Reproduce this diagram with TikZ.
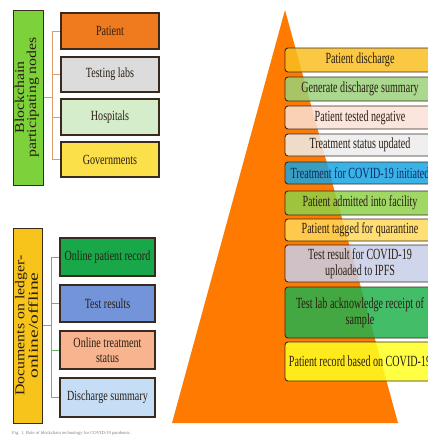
\documentclass[tikz,border=0pt]{standalone}
\usepackage{fontspec}
\setmainfont{Liberation Serif}
\newfontfamily\lcond[FakeStretch=0.72]{Liberation Serif}
\newfontfamily\rcond[FakeStretch=0.65]{Liberation Serif}
\newfontfamily\wideA[FakeStretch=1.17]{Liberation Serif}
\newfontfamily\wideB[FakeStretch=1.45]{Liberation Serif}
\definecolor{edge}{HTML}{3A2A1E}
\definecolor{txt}{HTML}{2A1E14}
\definecolor{navytxt}{HTML}{0A2A6A}
\definecolor{tri}{HTML}{FF7A00}
\definecolor{gtall}{HTML}{7DD13A}
\definecolor{ytall}{HTML}{F7C41C}
\definecolor{cpatient}{HTML}{F07A1E}
\definecolor{clabs}{HTML}{DCDCDC}
\definecolor{chosp}{HTML}{D6EDCB}
\definecolor{cgov}{HTML}{FCE04A}
\definecolor{crecord}{HTML}{18A84A}
\definecolor{ctest}{HTML}{7494DA}
\definecolor{ctreat}{HTML}{F7B48E}
\definecolor{cdisch}{HTML}{C6DEF5}
\definecolor{ctop}{HTML}{F9BE22}
\definecolor{cgen}{HTML}{9BD17A}
\definecolor{cneg}{HTML}{FBE1D6}
\definecolor{cupd}{HTML}{ECECEC}
\definecolor{cinit}{HTML}{19A5E0}
\definecolor{cadm}{HTML}{8ED14A}
\definecolor{ctag}{HTML}{FFD85A}
\definecolor{cres}{HTML}{C7CEE8}
\definecolor{cack}{HTML}{23B14D}
\definecolor{crec}{HTML}{FFFF22}
\definecolor{conntan}{HTML}{D9A06E}
\definecolor{conngreen}{HTML}{6DB56A}
\begin{document}
\begin{tikzpicture}[x=1pt,y=-1pt,
  lbox/.style={draw=edge, line width=1.3pt, inner sep=0pt, align=center, text=txt,
    font=\lcond\fontsize{14}{15}\selectfont},
  rbox/.style={draw=edge, draw opacity=1, line width=0.9pt, rounded corners=3pt,
    fill opacity=0.85, text opacity=1, inner sep=0pt, align=center, text=txt,
    minimum width=150pt, font=\rcond\fontsize{15.5}{16}\selectfont},
  tallbox/.style={draw=edge, line width=1pt, inner sep=0pt},
  talltext/.style={rotate=90, align=center, text=txt, inner sep=0pt,
    font=\wideA\fontsize{13.5}{12}\selectfont},
  conn/.style={line width=0.9pt}]
\useasboundingbox (0,0) rectangle (428,439);
\clip (0,0) rectangle (428,439);

% triangle
\fill[tri] (285,10) -- (172,423) -- (398,423) -- cycle;

% top-left group
\node[tallbox, fill=gtall, minimum width=30pt, minimum height=175pt] (gb) at (28,97.5) {};
\node[talltext] (gbt) at ([xshift=-1pt]gb.center) {Blockchain\\participating nodes};
\node[lbox, fill=cpatient, minimum width=98pt, minimum height=36pt] (p1) at (110,31) {Patient};
\node[lbox, fill=clabs, minimum width=98pt, minimum height=35pt] (p2) at (110,74.5) {Testing labs};
\node[lbox, fill=chosp, minimum width=98pt, minimum height=36pt] (p3) at (110,117) {Hospitals};
\node[lbox, fill=cgov, minimum width=98pt, minimum height=35pt] (p4) at (110,159.5) {Governments};
\coordinate (jt) at (52,97.5);
\draw[conn, conntan] (gb.east) -- (jt);
\draw[conn, conntan] (jt) |- (p1.west);
\draw[conn, conntan] (jt) |- (p2.west);
\draw[conn, conntan] (jt) |- (p3.west);
\draw[conn, conntan] (jt) |- (p4.west);

% bottom-left group
\node[tallbox, fill=ytall, minimum width=29pt, minimum height=195pt] (yb) at (27.5,325.5) {};
\node[talltext] (ybt) at ([xshift=-1pt]yb.center) {Documents on ledger-\\{\wideB online/offline}};
\node[lbox, fill=crecord, minimum width=95pt, minimum height=38pt] (d1) at (107.5,257) {Online patient record};
\node[lbox, fill=ctest, minimum width=95pt, minimum height=37pt] (d2) at (107.5,303.5) {Test results};
\node[lbox, fill=ctreat, minimum width=95pt, minimum height=38pt] (d3) at (107.5,350) {Online treatment\\status};
\node[lbox, fill=cdisch, minimum width=95pt, minimum height=39pt] (d4) at (107.5,397.5) {Discharge summary};
\coordinate (jb) at (51,325.5);
\draw[conn, conngreen] (yb.east) -- (jb);
\draw[conn, conngreen] (jb) |- (d1.west);
\draw[conn, conngreen] (jb) |- (d2.west);
\draw[conn, conngreen] (jb) |- (d3.west);
\draw[conn, conngreen] (jb) |- (d4.west);

% right stack
\node[rbox, fill=ctop, minimum height=24pt] (s1) at (360,60) {Patient discharge};
\node[rbox, fill=cgen, minimum height=24pt] (s2) at (360,89) {Generate discharge summary};
\node[rbox, fill=cneg, minimum height=23pt] (s3) at (360,117.5) {Patient tested negative};
\node[rbox, fill=cupd, minimum height=22pt] (s4) at (360,145) {Treatment status updated};
\node[rbox, fill=cinit, minimum height=22pt, text=navytxt] (s5) at (360,173) {Treatment for COVID-19 initiated};
\node[rbox, fill=cadm, minimum height=24pt] (s6) at (360,203) {Patient admitted into facility};
\node[rbox, fill=ctag, minimum height=22pt] (s7) at (360,230) {Patient tagged for quarantine};
\node[rbox, fill=cres, minimum height=37pt] (s8) at (360,263.5) {Test result for COVID-19\\uploaded to IPFS};
\node[rbox, fill=cack, minimum height=51pt] (s9) at (360,312.5) {Test lab acknowledge receipt of\\sample};
\node[rbox, fill=crec, minimum height=39pt] (s10) at (360,361.5) {Patient record based on COVID-19};

% caption
\node[anchor=west, inner sep=0pt, text=gray, font=\fontsize{4.6}{5}\selectfont] (cap) at (12,433)
  {Fig. 1. Role of blockchain technology for COVID-19 pandemic.};
\end{tikzpicture}
\end{document}
